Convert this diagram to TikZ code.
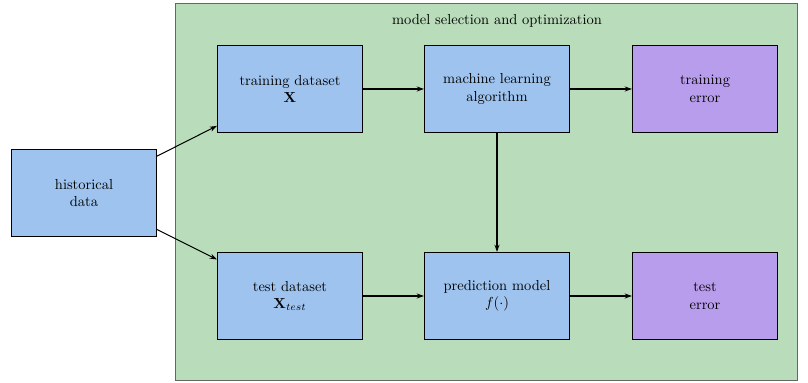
\documentclass[tikz,border=0pt]{standalone}
\usetikzlibrary{arrows.meta}
\definecolor{boxblue}{RGB}{158,195,238}
\definecolor{bggreen}{RGB}{185,221,186}
\definecolor{errpurple}{RGB}{185,157,237}
\begin{document}
\begin{tikzpicture}[x=0.69pt,y=-0.69pt,
  blk/.style={draw=black,line width=0.8pt,fill=boxblue,minimum width=100pt,minimum height=60pt,inner sep=0pt,align=center},
  errblk/.style={blk,fill=errpurple},
  arr/.style={-{Stealth[length=5pt,width=3.5pt]},line width=0.7pt}]
\useasboundingbox (0,0) rectangle (808,383);
\fill[bggreen,draw=black!60,line width=0.5pt] (175,3) rectangle (797,380);
\node (title) at (497,21) {model selection and optimization};
\node[blk] (hist) at (84,193) {historical\\data};
\node[blk] (train) at (290,89) {training dataset\\$\mathbf{X}$};
\node[blk] (ml) at (497,89) {machine learning\\algorithm};
\node[errblk] (terr) at (705,89) {training\\error};
\node[blk] (test) at (290,296) {test dataset\\$\mathbf{X}_{test}$};
\node[blk] (pred) at (497,296) {prediction model\\$f(\cdot)$};
\node[errblk] (teerr) at (705,296) {test\\error};
\draw[arr] (hist) -- (train);
\draw[arr] (hist) -- (test);
\draw[arr] (train) -- (ml);
\draw[arr] (ml) -- (terr);
\draw[arr] (ml) -- (pred);
\draw[arr] (test) -- (pred);
\draw[arr] (pred) -- (teerr);
\end{tikzpicture}
\end{document}
